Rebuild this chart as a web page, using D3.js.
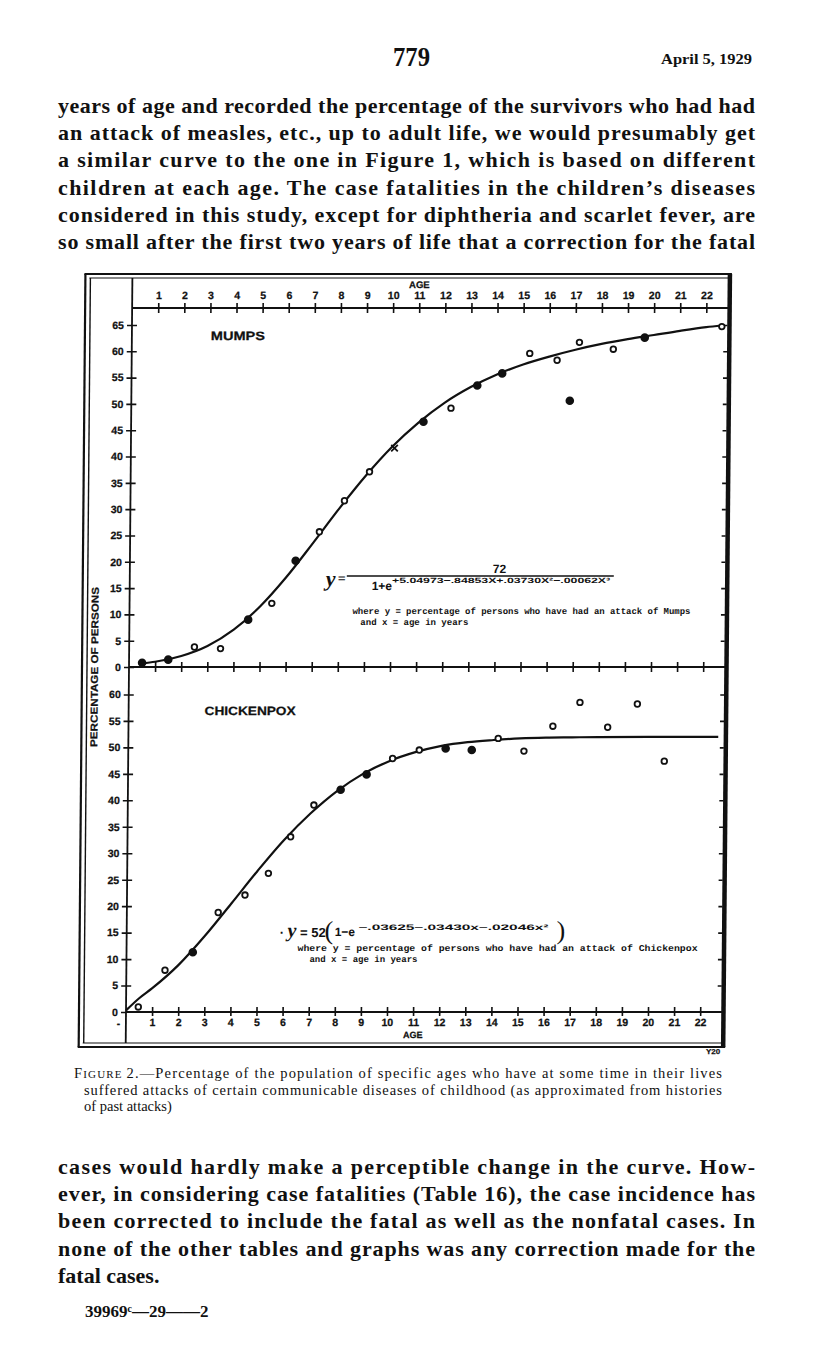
<!DOCTYPE html>
<meta charset="utf-8">
<head>
<title>Figure 2 - mumps and chickenpox</title>
<style>
body { margin: 0; background: #fff; }
svg text { fill: #111; }
.page { font-family: "Liberation Serif", "DejaVu Serif", serif; font-weight: bold; font-size: 22px; }
.cap { font-family: "Liberation Serif", serif; font-size: 14.5px; }
.lab { font-family: "Liberation Sans", Arial, sans-serif; font-weight: bold; font-size: 10px; stroke: #111; stroke-width: 0.25; }
.mono { font-family: "Liberation Mono", "DejaVu Sans Mono", monospace; font-weight: bold; font-size: 9px; }
.axis path { display: none; }
.axis line { stroke: #111; stroke-width: 1.6; }
.axis text { font-family: "Liberation Sans", Arial, sans-serif; font-weight: bold; font-size: 10.5px; fill: #111; stroke: #111; stroke-width: 0.25; }
</style>
</head>
<body>
<script src="https://cdn.jsdelivr.net/npm/d3@7"></script>
<script>

// ages on the axes and percent ticks
var ages = d3.range(1, 23);
var mumpsTicks = d3.range(0, 66, 5);
var chickTicks = d3.range(0, 61, 5);

var mumpsAge  = [0.5, 1.5, 2.5, 3.5, 4.55, 5.45, 6.35, 7.25, 8.2, 9.15, 10.1, 11.2, 12.25, 13.25, 14.2, 15.25, 16.3, 16.8, 17.15, 18.45, 19.65, 22.6];
var mumpsPct  = [0.8, 1.4, 3.8, 3.5, 9.0, 12.1, 20.2, 25.7, 31.6, 37.1, 41.6, 46.6, 49.2, 53.5, 55.8, 59.6, 58.3, 50.6, 61.7, 60.4, 62.6, 64.7];
var mumpsMark = ["f","f","o","o","f","o","f","o","o","o","x","f","o","f","f","o","o","f","o","o","f","o"];

var chickAge  = [0.47, 1.48, 2.54, 3.5, 4.52, 5.41, 6.25, 7.13, 8.15, 9.14, 10.13, 11.15, 12.16, 13.16, 14.17, 15.16, 16.26, 17.29, 18.36, 19.49, 20.54];
var chickPct  = [0.95, 7.9, 11.3, 18.8, 22.1, 26.2, 33.1, 39.1, 42.0, 44.9, 47.9, 49.5, 49.8, 49.5, 51.7, 49.3, 54.0, 58.5, 53.8, 58.2, 47.4];
var chickMark = ["o","o","f","o","o","o","o","o","f","f","o","o","f","f","o","o","o","o","o","o","o"];

// fitted curves as drawn on the plate
var mumpsCurveAge = [0.5, 1, 2, 3, 4, 5, 6, 7, 8, 9, 10, 11, 12, 13, 14, 15, 16, 17, 18, 19, 20, 21, 22, 22.6];
var mumpsCurvePct = [0.7, 1.0, 2.1, 4.0, 7.1, 11.5, 17.1, 23.5, 30.1, 36.3, 41.8, 46.4, 50.2, 53.2, 55.6, 57.5, 59.0, 60.3, 61.4, 62.3, 63.1, 63.9, 64.6, 64.9];
var chickCurveAge = [0, 0.5, 1, 2, 3, 4, 5, 6, 7, 8, 9, 10, 11, 12, 13, 14, 15, 16, 17, 18, 20, 22.6];
var chickCurvePct = [0.3, 2.6, 4.5, 8.9, 14.4, 20.5, 26.7, 32.5, 37.5, 41.7, 45.0, 47.4, 49.1, 50.3, 51.0, 51.4, 51.7, 51.85, 51.9, 51.95, 52.0, 52.0];

var textTop = [
  "years of age and recorded the percentage of the survivors who had had",
  "an attack of measles, etc., up to adult life, we would presumably get",
  "a similar curve to the one in Figure 1, which is based on different",
  "children at each age.  The case fatalities in the children\u2019s diseases",
  "considered in this study, except for diphtheria and scarlet fever, are",
  "so small after the first two years of life that a correction for the fatal"
];
var textBottom = [
  "cases would hardly make a perceptible change in the curve.  How-",
  "ever, in considering case fatalities (Table 16), the case incidence has",
  "been corrected to include the fatal as well as the nonfatal cases.  In",
  "none of the other tables and graphs was any correction made for the",
  "fatal cases."
];
var caption = [
  "2.\u2014Percentage of the population of specific ages who have at some time in their lives",
  "suffered attacks of certain communicable diseases of childhood (as approximated from histories",
  "of past attacks)"
];

var width = 816, height = 1351;

var svg = d3.select("body").append("svg")
    .attr("width", width)
    .attr("height", height);

svg.append("rect").attr("width", width).attr("height", height).attr("fill", "#fff");

// running head
svg.append("text").attr("class", "page")
    .attr("x", 393).attr("y", 66)
    .attr("textLength", 37).attr("lengthAdjust", "spacingAndGlyphs")
    .style("font-size", "27px")
    .text("779");
svg.append("text").attr("class", "page")
    .attr("x", 661).attr("y", 64)
    .attr("textLength", 91).attr("lengthAdjust", "spacingAndGlyphs")
    .style("font-size", "15px")
    .text("April 5, 1929");

// body text above the figure
svg.selectAll("text.top").data(textTop).enter().append("text")
    .attr("class", "page top")
    .attr("x", 58)
    .attr("y", function(d, i) { return 113 + i * 27.2; })
    .attr("textLength", 697)
    .attr("lengthAdjust", "spacing")
    .text(function(d) { return d; });

// ---- the figure ----
var x = d3.scaleLinear().domain([0, 22]).range([129, 129 + 22 * 26.1]);
var yM = d3.scaleLinear().domain([0, 65]).range([667, 325]);
var yC = d3.scaleLinear().domain([0, 65]).range([1012, 668]);

var left = 129, right = 726.5, frameTop = 278, frameBottom = 1043;

// the plate is scanned slightly out of square
var chart = svg.append("g")
    .attr("transform", "translate(0,667) skewX(-0.5) translate(0,-667)");

// frame
chart.append("line").attr("x1", 82).attr("x2", 82).attr("y1", frameTop - 4).attr("y2", frameBottom + 4)
    .attr("stroke", "#111").attr("stroke-width", 2.2);
chart.append("line").attr("x1", 87).attr("x2", 87).attr("y1", frameTop).attr("y2", frameBottom)
    .attr("stroke", "#111").attr("stroke-width", 1.4);
chart.append("line").attr("x1", 81).attr("x2", right + 2).attr("y1", frameTop - 4).attr("y2", frameTop - 4)
    .attr("stroke", "#111").attr("stroke-width", 2);
chart.append("line").attr("x1", 86).attr("x2", right).attr("y1", frameTop).attr("y2", frameTop)
    .attr("stroke", "#111").attr("stroke-width", 1.2);
chart.append("line").attr("x1", 81).attr("x2", right + 2).attr("y1", frameBottom + 4).attr("y2", frameBottom + 4)
    .attr("stroke", "#111").attr("stroke-width", 2);
chart.append("line").attr("x1", 86).attr("x2", right).attr("y1", frameBottom).attr("y2", frameBottom)
    .attr("stroke", "#111").attr("stroke-width", 1.2);
chart.append("line").attr("x1", right).attr("x2", right).attr("y1", frameTop - 4).attr("y2", frameBottom + 4)
    .attr("stroke", "#111").attr("stroke-width", 4.5);

// vertical axis runs the full height of the plate
chart.append("line").attr("x1", left).attr("x2", left).attr("y1", frameTop).attr("y2", frameBottom)
    .attr("stroke", "#111").attr("stroke-width", 1.8);

// horizontal axis lines
[308, yM(0), yC(0)].forEach(function(yy) {
  chart.append("line").attr("x1", left).attr("x2", right).attr("y1", yy).attr("y2", yy)
      .attr("stroke", "#111").attr("stroke-width", 1.8);
});

// top age axis
var topAxis = chart.append("g").attr("class", "axis")
    .attr("transform", "translate(0,308)")
    .call(d3.axisTop(x).tickValues(ages).tickSize(5).tickSizeOuter(0).tickPadding(4));
topAxis.selectAll(".tick line").attr("y1", 5);

chart.append("text").attr("class", "lab")
    .attr("x", x(11)).attr("y", 288)
    .attr("text-anchor", "middle")
    .style("font-size", "9.5px")
    .text("AGE");

// middle axis (zero line of mumps)
var midAxis = chart.append("g").attr("class", "axis")
    .attr("transform", "translate(0," + yM(0) + ")")
    .call(d3.axisBottom(x).tickValues(ages).tickSize(5).tickSizeOuter(0).tickFormat(""));
midAxis.selectAll(".tick line").attr("y1", -5);

// bottom age axis
var botAxis = chart.append("g").attr("class", "axis")
    .attr("transform", "translate(0," + yC(0) + ")")
    .call(d3.axisBottom(x).tickValues(ages).tickSize(4).tickSizeOuter(0).tickPadding(3));
botAxis.selectAll(".tick line").attr("y1", -5);

chart.append("text").attr("class", "lab")
    .attr("x", x(11)).attr("y", 1038.5)
    .attr("text-anchor", "middle")
    .style("font-size", "9px")
    .text("AGE");
chart.append("text").attr("class", "lab")
    .attr("x", 120).attr("y", 1027)
    .text("-");

// percent axes
var mAxis = chart.append("g").attr("class", "axis")
    .attr("transform", "translate(" + left + ",0)")
    .call(d3.axisLeft(yM).tickValues(mumpsTicks).tickSize(5).tickSizeOuter(0).tickPadding(3));
mAxis.selectAll(".tick line").attr("x1", 5);

var cAxis = chart.append("g").attr("class", "axis")
    .attr("transform", "translate(" + left + ",0)")
    .call(d3.axisLeft(yC).tickValues(chickTicks.filter(function(v) { return v > 0; })).tickSize(5).tickSizeOuter(0).tickPadding(3));
cAxis.selectAll(".tick line").attr("x1", 5);
chart.append("g").attr("class", "axis")
    .attr("transform", "translate(" + left + ",0)")
    .call(d3.axisLeft(yC).tickValues([0]).tickSize(5).tickSizeOuter(0).tickPadding(3))
    .selectAll(".tick line").attr("x1", 0);

// inward ticks on the right border
chart.append("g").attr("class", "axis")
    .attr("transform", "translate(" + (right - 2) + ",0)")
    .call(d3.axisLeft(yM).tickValues(mumpsTicks.slice(1)).tickSize(4).tickFormat(""));
chart.append("g").attr("class", "axis")
    .attr("transform", "translate(" + (right - 2) + ",0)")
    .call(d3.axisLeft(yC).tickValues(chickTicks.slice(1)).tickSize(4).tickFormat(""));

chart.append("text").attr("class", "lab")
    .attr("transform", "translate(98,667) rotate(-90)")
    .attr("text-anchor", "middle")
    .attr("textLength", 160).attr("lengthAdjust", "spacingAndGlyphs")
    .style("font-size", "10px")
    .text("PERCENTAGE OF PERSONS");

chart.append("text").attr("class", "lab")
    .attr("x", 208).attr("y", 340)
    .attr("textLength", 54).attr("lengthAdjust", "spacingAndGlyphs")
    .style("font-size", "12px")
    .text("MUMPS");
chart.append("text").attr("class", "lab")
    .attr("x", 205).attr("y", 715)
    .attr("textLength", 91).attr("lengthAdjust", "spacingAndGlyphs")
    .style("font-size", "12px")
    .text("CHICKENPOX");

// curves
var lineM = d3.line().x(function(d) { return x(d[0]); }).y(function(d) { return yM(d[1]); }).curve(d3.curveMonotoneX);
var lineC = d3.line().x(function(d) { return x(d[0]); }).y(function(d) { return yC(d[1]); }).curve(d3.curveMonotoneX);

chart.append("path")
    .attr("d", lineM(d3.zip(mumpsCurveAge, mumpsCurvePct)))
    .attr("fill", "none").attr("stroke", "#111").attr("stroke-width", 2.2);
chart.append("path")
    .attr("d", lineC(d3.zip(chickCurveAge, chickCurvePct)))
    .attr("fill", "none").attr("stroke", "#111").attr("stroke-width", 2.2);

function drawMarks(ageArr, pctArr, markArr, yScale) {
  var pts = d3.zip(ageArr, pctArr, markArr);
  var g = chart.append("g");
  g.selectAll("circle").data(pts.filter(function(d) { return d[2] !== "x"; }))
    .enter().append("circle")
      .attr("cx", function(d) { return x(d[0]); })
      .attr("cy", function(d) { return yScale(d[1]); })
      .attr("r", function(d) { return d[2] === "f" ? 3.4 : 2.8; })
      .attr("fill", function(d) { return d[2] === "f" ? "#111" : "#fff"; })
      .attr("stroke", "#111")
      .attr("stroke-width", 1.8);
  g.selectAll("path").data(pts.filter(function(d) { return d[2] === "x"; }))
    .enter().append("path")
      .attr("d", d3.symbol(d3.symbolX, 30))
      .attr("transform", function(d) { return "translate(" + x(d[0]) + "," + yScale(d[1]) + ")"; })
      .attr("stroke", "#111").attr("stroke-width", 1.8);
}
drawMarks(mumpsAge, mumpsPct, mumpsMark, yM);
drawMarks(chickAge, chickPct, chickMark, yC);

// mumps formula
var fm = chart.append("g");
fm.append("text").attr("x", 325).attr("y", 586)
    .style("font", "italic bold 22px 'Liberation Serif', serif").text("y");
fm.append("text").attr("x", 337).attr("y", 583)
    .style("font", "bold 14px 'Liberation Serif', serif").text("=");
fm.append("line").attr("x1", 346).attr("x2", 613).attr("y1", 576).attr("y2", 576)
    .attr("stroke", "#111").attr("stroke-width", 1.4);
fm.append("text").attr("x", 492).attr("y", 573)
    .style("font", "bold 12px 'Liberation Sans', sans-serif").text("72");
var den = fm.append("text").attr("x", 371).attr("y", 590)
    .style("font", "bold 12px 'Liberation Sans', sans-serif");
den.append("tspan").text("1+e");
den.append("tspan").attr("dy", -7).style("font-size", "7.5px")
    .attr("textLength", 218).attr("lengthAdjust", "spacingAndGlyphs")
    .text("+5.04973\u2212.84853X+.03730X\u00b2\u2212.00062X\u00b3");
fm.append("text").attr("class", "mono").attr("x", 352).attr("y", 614)
    .attr("textLength", 338).attr("lengthAdjust", "spacingAndGlyphs")
    .text("where y = percentage of persons who have had an attack of Mumps");
fm.append("text").attr("class", "mono").attr("x", 360).attr("y", 625)
    .text("and x = age in years");

// chickenpox formula
var fc = chart.append("g");
var eq = fc.append("text").attr("x", 282).attr("y", 937)
    .style("font", "bold 13px 'Liberation Sans', sans-serif");
eq.append("tspan").text("\u00b7 ");
eq.append("tspan").style("font", "italic bold 20px 'Liberation Serif', serif").text("y");
eq.append("tspan").text(" = 52");
fc.append("text").attr("x", 327).attr("y", 939)
    .style("font", "26px 'Liberation Serif', serif").text("(");
var ex = fc.append("text").attr("x", 337).attr("y", 936)
    .style("font", "bold 12px 'Liberation Sans', sans-serif");
ex.append("tspan").text("1\u2212e ");
ex.append("tspan").attr("dy", -6).style("font-size", "8px")
    .attr("textLength", 190).attr("lengthAdjust", "spacingAndGlyphs")
    .text("\u2212.03625\u2212.03430x\u2212.02046x\u00b2");
fc.append("text").attr("x", 559).attr("y", 939)
    .style("font", "26px 'Liberation Serif', serif").text(")");
fc.append("text").attr("class", "mono").attr("x", 300).attr("y", 951)
    .attr("textLength", 400).attr("lengthAdjust", "spacingAndGlyphs")
    .text("where y = percentage of persons who have had an attack of Chickenpox");
fc.append("text").attr("class", "mono").attr("x", 312).attr("y", 962)
    .text("and x = age in years");

svg.append("text").attr("class", "lab")
    .attr("x", 706).attr("y", 1054)
    .style("font-size", "8px")
    .text("Y20");

// caption
var cap = svg.selectAll("text.capline").data(caption).enter().append("text")
    .attr("class", "cap capline")
    .attr("x", function(d, i) { return i === 0 ? 74 : 84; })
    .attr("y", function(d, i) { return 1078 + i * 16.5; });
cap.filter(function(d, i) { return i === 0; }).append("tspan").text("F");
cap.filter(function(d, i) { return i === 0; }).append("tspan").style("font-size", "11px").text("IGURE ");
cap.append("tspan").text(function(d) { return d; });
cap.filter(function(d, i) { return i < 2; })
    .attr("textLength", function(d, i) { return i === 0 ? 648 : 638; })
    .attr("lengthAdjust", "spacing");

// body text below the figure
svg.selectAll("text.bot").data(textBottom).enter().append("text")
    .attr("class", "page bot")
    .attr("x", 58)
    .attr("y", function(d, i) { return 1174 + i * 27.2; })
    .attr("textLength", function(d, i) { return i < textBottom.length - 1 ? 697 : null; })
    .attr("lengthAdjust", "spacing")
    .text(function(d) { return d; });

svg.append("text").attr("class", "page")
    .attr("x", 85).attr("y", 1317)
    .style("font-size", "17px")
    .text("39969\u1d9c\u201429\u2014\u20142");

</script>
</body>
